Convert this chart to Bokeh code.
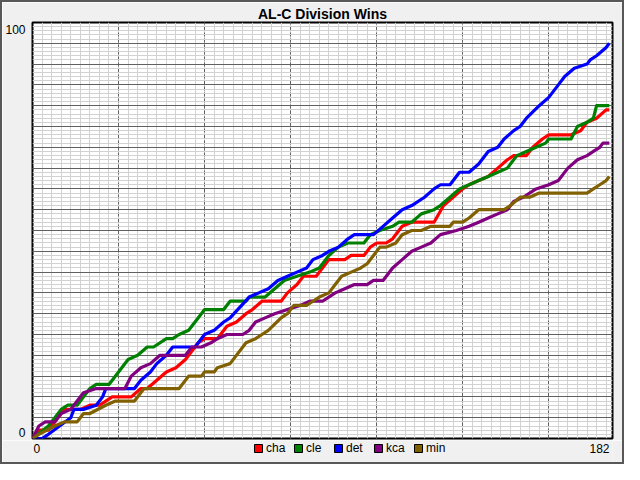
from bokeh.plotting import figure
from bokeh.models import FixedTicker, Legend, LegendItem, Range1d, LinearAxis
from bokeh.layouts import column
from bokeh.core.properties import value
from bokeh.embed import file_html
from bokeh.resources import INLINE

# ---- data (day of season, cumulative wins) ----
teams = ["cha", "cle", "det", "kca", "min"]
colors = ["#ff0000", "#008000", "#0000ff", "#800080", "#806000"]

cha_days = [0, 2, 5, 10, 15, 18, 21, 23, 25, 31, 34, 36, 39, 42, 45, 48, 52, 54, 57, 58, 61, 64, 67, 69, 72,
            78, 80, 83, 85, 89, 91, 93, 98, 100, 104, 106, 108, 111, 113, 116, 119, 126, 129, 132, 135, 137,
            140, 143, 146, 149, 151, 155, 157, 160, 162, 169, 172, 174, 177, 180, 181]
cha_wins = [0, 2, 2, 7, 7, 8, 8, 9, 10, 10, 12, 12, 14, 16, 17, 19, 23, 24, 24, 24, 27, 28, 30, 31, 33,
            33, 35, 37, 39, 39, 41, 43, 43, 44, 44, 46, 47, 47, 48, 51, 52, 52, 56, 58, 60, 61,
            62, 63, 65, 67, 68, 68, 70, 72, 73, 73, 74, 76, 77, 79, 79]

cle_days = [0, 5, 9, 11, 14, 18, 20, 24, 30, 33, 36, 38, 42, 44, 46, 49, 53, 54, 57, 58, 60, 62, 67, 68, 73,
            76, 79, 87, 90, 93, 96, 99, 104, 106, 109, 113, 115, 119, 122, 126, 128, 131, 134, 137, 140,
            143, 146, 149, 152, 155, 158, 161, 162, 166, 169, 171, 174, 176, 177, 181]
cle_wins = [0, 3, 7, 8, 8, 12, 13, 13, 19, 20, 22, 22, 24, 24, 25, 26, 30, 31, 31, 31, 31, 33, 33, 34, 34,
            36, 38, 40, 41, 44, 46, 47, 47, 49, 50, 51, 52, 52, 54, 55, 56, 58, 60, 61, 62,
            63, 64, 65, 68, 69, 70, 71, 72, 72, 72, 75, 76, 77, 80, 80]

det_days = [0, 3, 5, 12, 13, 16, 20, 22, 23, 25, 32, 34, 37, 39, 42, 44, 51, 54, 57, 60, 62, 68, 71, 74, 77,
            80, 83, 86, 88, 91, 93, 96, 99, 101, 107, 110, 113, 116, 119, 123, 126, 128, 131, 134, 137,
            140, 143, 146, 148, 151, 153, 155, 159, 162, 165, 167, 170, 174, 175, 177, 180, 181]
det_wins = [0, 0, 1, 5, 7, 7, 8, 10, 12, 12, 12, 14, 16, 18, 20, 22, 22, 25, 26, 28, 29, 34, 35, 36, 38,
            39, 40, 41, 43, 44, 45, 46, 48, 49, 49, 51, 53, 55, 56, 58, 60, 61, 61, 64, 64,
            66, 69, 70, 72, 74, 75, 77, 80, 82, 85, 87, 89, 90, 91, 92, 94, 95]

kca_days = [0, 2, 4, 7, 9, 12, 14, 16, 20, 25, 29, 31, 34, 37, 40, 48, 50, 53, 56, 58, 61, 66, 68, 70, 73,
            76, 80, 84, 87, 91, 95, 98, 101, 105, 107, 110, 113, 116, 119, 122, 125, 128, 133, 137, 140,
            143, 146, 149, 151, 154, 158, 162, 165, 168, 171, 174, 176, 178, 179, 181]
kca_wins = [0, 3, 4, 4, 6, 7, 9, 11, 12, 12, 12, 15, 17, 18, 20, 20, 22, 22, 23, 24, 25, 25, 26, 28, 29,
            30, 31, 32, 33, 33, 35, 36, 37, 37, 38, 38, 41, 43, 45, 46, 47, 49, 50, 51, 52,
            53, 54, 55, 57, 58, 60, 61, 62, 65, 67, 68, 69, 70, 71, 71]

min_days = [0, 2, 7, 10, 14, 16, 18, 23, 26, 32, 35, 38, 46, 49, 53, 54, 57, 58, 62, 67, 70, 72, 74, 78, 80,
            82, 86, 88, 90, 93, 95, 97, 100, 103, 105, 107, 109, 111, 114, 116, 119, 122, 125, 131, 132,
            135, 137, 140, 142, 148, 150, 153, 156, 159, 161, 174, 176, 178, 180, 181]
min_wins = [0, 1, 3, 4, 4, 6, 6, 8, 9, 9, 12, 12, 12, 15, 15, 16, 16, 17, 18, 23, 24, 25, 26, 29, 30,
            32, 32, 33, 34, 35, 37, 39, 40, 41, 42, 44, 46, 46, 47, 49, 50, 50, 51, 51, 52,
            52, 53, 55, 55, 55, 56, 58, 58, 59, 59, 59, 60, 61, 62, 63]

series_days = [cha_days, cle_days, det_days, kca_days, min_days]
series_wins = [cha_wins, cle_wins, det_wins, kca_wins, min_wins]

x_max = 182
y_max = 100
x_tick_values = [0, 182]
y_tick_values = [0, 100]
x_major = list(range(27, 182, 27))
x_minor = list(range(0, 183, 3))
y_major = list(range(5, 100, 5))
y_minor = list(range(0, 101, 1))

FONT = "Liberation Sans"
BG = "#f0f0f0"
W = 620
H_MAIN = 438
H_BOT = 22

xr = Range1d(0, x_max)

# ---------------- main chart ----------------
p = figure(width=W, height=H_MAIN, output_backend="svg", toolbar_location=None,
           x_range=xr, y_range=Range1d(0, y_max),
           title="AL-C Division Wins",
           min_border_left=24, min_border_right=10, min_border_top=16, min_border_bottom=2)
p.title.align = "center"
p.title.text_font = FONT
p.title.text_font_size = "14px"
p.title.text_font_style = "bold"
p.title.text_color = "black"
p.title.standoff = 2
p.title.offset = 0

p.background_fill_color = "white"
p.border_fill_color = BG
p.outline_line_color = "black"
p.outline_line_width = 2

p.xaxis.visible = False
p.yaxis.visible = False

p.extra_y_ranges = {"lbl": Range1d(-1.6, y_max + 1.8)}
yax = LinearAxis(y_range_name="lbl", ticker=FixedTicker(ticks=y_tick_values),
                 axis_line_color=None, major_tick_line_color=None, minor_tick_line_color=None,
                 major_label_standoff=1, major_label_text_font=FONT,
                 major_label_text_font_size="12px", major_label_text_color="black")
p.add_layout(yax, "left")

p.xgrid.ticker = FixedTicker(ticks=x_major, minor_ticks=x_minor)
p.xgrid.grid_line_color = "#606060"
p.xgrid.grid_line_dash = "4 2"
p.xgrid.grid_line_width = 1
p.xgrid.minor_grid_line_color = "#d2d2d2"
p.xgrid.minor_grid_line_width = 1

p.ygrid.ticker = FixedTicker(ticks=y_major, minor_ticks=y_minor)
p.ygrid.grid_line_color = "#606060"
p.ygrid.grid_line_width = 1
p.ygrid.minor_grid_line_color = "#d2d2d2"
p.ygrid.minor_grid_line_width = 1

for name, col, d, w in zip(teams, colors, series_days, series_wins):
    p.line(d, w, line_color=col, line_width=3.2, line_join="round")

# ---------------- bottom strip: x labels + legend (frame aligned with the chart) ----------------
q = figure(width=W, height=H_BOT, output_backend="svg", toolbar_location=None,
           x_range=xr, y_range=Range1d(0, H_BOT),
           min_border=0, x_axis_location=None, y_axis_location=None)
q.grid.visible = False
q.background_fill_color = BG
q.border_fill_color = BG
q.outline_line_color = None

q.text(x=[x_tick_values[0]], y=[H_BOT - 3], text=[str(x_tick_values[0])], text_align="left",
       text_baseline="top", x_offset=1,
       text_font=value(FONT), text_font_size="12px", text_color="black")
q.text(x=[x_tick_values[1]], y=[H_BOT - 3], text=[str(x_tick_values[1])], text_align="right",
       text_baseline="top", x_offset=-3,
       text_font=value(FONT), text_font_size="12px", text_color="black")

items = []
for name, col in zip(teams, colors):
    dummy = q.quad(left=[-1000], right=[-999], top=[-1000], bottom=[-1001], fill_color=col,
                   line_color="black", line_width=1)
    items.append(LegendItem(label=name, renderers=[dummy]))

legend = Legend(items=items, orientation="horizontal", location=(221, 7),
                glyph_width=10, glyph_height=10, label_standoff=3, label_width=25, label_height=12,
                spacing=2, padding=1, margin=0,
                label_text_font=FONT, label_text_font_size="12px", label_text_color="black",
                background_fill_alpha=0, border_line_color=None)
q.add_layout(legend)

layout = column(p, q, spacing=0, styles={"border": "2px solid #585858"})
open("out.html", "w").write(file_html(layout, INLINE))
